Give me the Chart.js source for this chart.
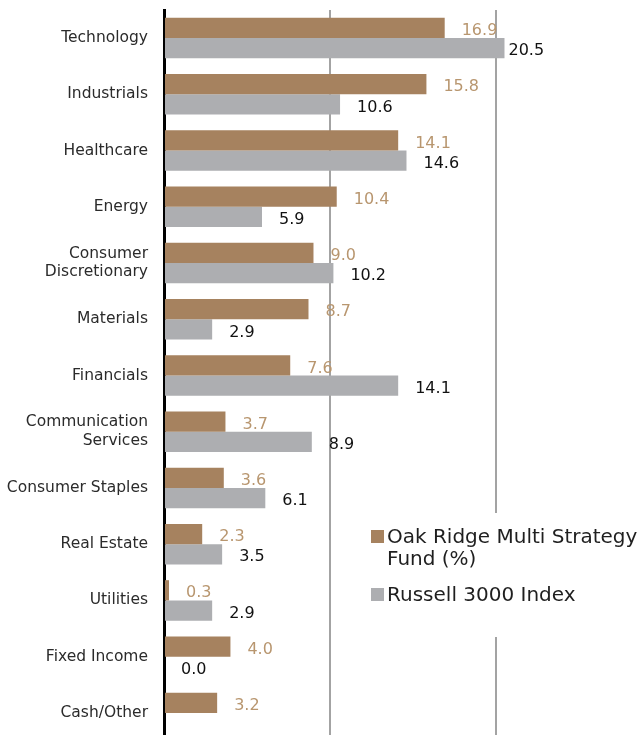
<!DOCTYPE html>
<html>
<head>
<meta charset="utf-8">
<script src="https://cdn.jsdelivr.net/npm/chart.js@4.4.1/dist/chart.umd.min.js"></script>
<style>
  html, body { margin: 0; padding: 0; background: #fff; overflow: hidden; }
  #wrap { width: 644px; height: 741px; position: relative; }
</style>
</head>
<body>
<div id="wrap"><canvas id="c"></canvas></div>
<script>
const categories = [
  'Technology', 'Industrials', 'Healthcare', 'Energy',
  ['Consumer', 'Discretionary'], 'Materials', 'Financials',
  ['Communication', 'Services'], 'Consumer Staples', 'Real Estate',
  'Utilities', 'Fixed Income', 'Cash/Other'
];
const fundValues = [16.9, 15.8, 14.1, 10.4, 9.0, 8.7, 7.6, 3.7, 3.6, 2.3, 0.3, 4.0, 3.2];
const indexValues = [20.5, 10.6, 14.6, 5.9, 10.2, 2.9, 14.1, 8.9, 6.1, 3.5, 2.9, 0.0, null];
const seriesNames = ['Oak Ridge Multi Strategy Fund (%)', 'Russell 3000 Index'];
const gridTicks = [0, 10, 20];

const FONT = "'DejaVu Sans', sans-serif";
const fundColor = '#A6825F';
const indexColor = '#ADAEB1';
const labelColors = ['#B8966F', '#111111'];

const valueLabels = {
  id: 'valueLabels',
  afterDatasetsDraw(chart) {
    const ctx = chart.ctx;
    ctx.save();
    ctx.font = '16px ' + FONT;
    ctx.textAlign = 'left';
    ctx.textBaseline = 'middle';
    chart.data.datasets.forEach((ds, di) => {
      const meta = chart.getDatasetMeta(di);
      ctx.fillStyle = labelColors[di];
      meta.data.forEach((el, i) => {
        const v = ds.data[i];
        if (v === null || v === undefined) return;
        const off = v >= 20 ? 4 : 17;
        ctx.fillText(v.toFixed(1), el.x + off, el.y + 3);
      });
    });
    ctx.restore();
  }
};

const sideLegend = {
  id: 'sideLegend',
  afterDraw(chart) {
    const ctx = chart.ctx;
    ctx.save();
    ctx.fillStyle = '#ffffff';
    ctx.fillRect(362, 513, 282, 124);
    ctx.font = '20px ' + FONT;
    ctx.textBaseline = 'alphabetic';
    ctx.textAlign = 'left';
    const textX = 387, maxW = 644 - textX;
    let y = 543;
    chart.data.datasets.forEach((ds) => {
      const words = ds.label.split(' ');
      const lines = [];
      let line = '';
      words.forEach(w => {
        const test = line ? line + ' ' + w : w;
        if (ctx.measureText(test).width > maxW && line) { lines.push(line); line = w; }
        else line = test;
      });
      if (line) lines.push(line);
      ctx.fillStyle = ds.backgroundColor;
      ctx.fillRect(371, y - 13, 13, 13);
      ctx.fillStyle = '#1f1f1f';
      lines.forEach((l, k) => ctx.fillText(l, textX, y + k * 22));
      y += lines.length * 22 + 14;
    });
    ctx.restore();
  }
};

new Chart(document.getElementById('c'), {
  type: 'bar',
  data: {
    labels: categories,
    datasets: [
      { label: seriesNames[0], data: fundValues, backgroundColor: fundColor },
      { label: seriesNames[1], data: indexValues, backgroundColor: indexColor }
    ]
  },
  options: {
    indexAxis: 'y',
    responsive: true,
    maintainAspectRatio: false,
    animation: false,
    layout: { padding: { top: 10, right: 0, bottom: 0, left: 0 } },
    datasets: { bar: { categoryPercentage: 0.72, barPercentage: 1.0 } },
    plugins: { legend: { display: false }, tooltip: { enabled: false } },
    scales: {
      x: {
        min: 0, max: 28.9,
        afterBuildTicks(axis) { axis.ticks = gridTicks.map(v => ({ value: v })); },
        afterFit(scale) { scale.height = 0; scale.paddingLeft = 0; scale.paddingRight = 0; },
        ticks: { display: false },
        grid: {
          drawTicks: false,
          color: (c) => c.tick && c.tick.value === 0 ? 'rgba(0,0,0,0)' : '#A3A3A3',
          lineWidth: 2
        },
        border: { display: false }
      },
      y: {
        afterFit(scale) { scale.width = 164; scale.paddingTop = 0; scale.paddingBottom = 0; },
        ticks: { color: '#2b2b2b', font: { family: FONT, size: 15.5 }, padding: 16 },
        grid: { display: false, drawTicks: false },
        border: { display: true, color: '#000000', width: 3 }
      }
    }
  },
  plugins: [valueLabels, sideLegend]
});
</script>
</body>
</html>
